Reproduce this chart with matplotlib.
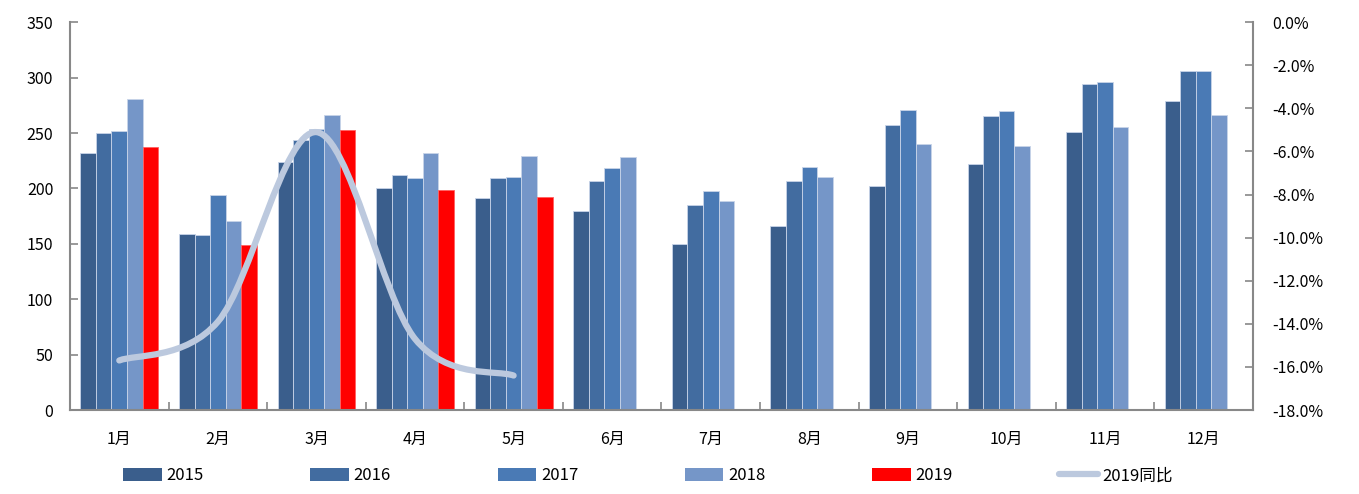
import matplotlib
matplotlib.use("Agg")
import matplotlib.pyplot as plt
import numpy as np
from matplotlib.path import Path
from matplotlib.patches import PathPatch, Patch
from matplotlib.lines import Line2D
from matplotlib.ticker import FuncFormatter, MultipleLocator

plt.rcParams['font.family'] = ['Noto Sans CJK SC', 'DejaVu Sans']

months = ["1月", "2月", "3月", "4月", "5月", "6月", "7月", "8月", "9月", "10月", "11月", "12月"]
years = ["2015", "2016", "2017", "2018", "2019"]
v2015 = [232, 159, 224, 200, 191, 180, 150, 166, 202, 222, 251, 279]
v2016 = [250, 158, 244, 212, 209, 207, 185, 207, 257, 265, 294, 306]
v2017 = [252, 194, 254, 209, 210, 218, 198, 219, 271, 270, 296, 306]
v2018 = [281, 171, 266, 232, 229, 228, 189, 210, 240, 238, 255, 266]
v2019 = [237, 149, 253, 199, 192]
yoy2019 = [-15.7, -13.9, -5.1, -14.7, -16.4]

colors = ["#3A5E8C", "#426CA0", "#4A7AB5", "#7596C8", "#FF0000"]
line_color = "#BCC9DE"
series = [v2015, v2016, v2017, v2018, v2019]

fig = plt.figure(figsize=(13.59, 4.94), dpi=100)
ax = fig.add_axes([0.0515, 0.17, 0.8705, 0.785])
ax2 = ax.twinx()

w = 0.158
x = np.arange(len(months))
for i, vals in enumerate(series):
    xs = x[:len(vals)] + (i - 2) * w
    edge = "#FF6060" if i == 4 else "#C8D4E8"
    ax.bar(xs, vals, width=w, color=colors[i], edgecolor=edge, linewidth=0.6, zorder=2)

ax.set_xlim(-0.5, 11.5)
ax.set_ylim(0, 350)
ax.yaxis.set_major_locator(MultipleLocator(50))
ax.set_xticks(x)
ax.set_xticklabels(months)
ax.set_xticks(np.arange(-0.5, 12, 1), minor=True)
ax.tick_params(axis='x', which='major', length=0, labelsize=11.5, pad=15)
ax.tick_params(axis='x', which='minor', direction='in', length=6, color="#888888", width=1.2)
ax.tick_params(axis='y', direction='in', length=6, color="#888888", width=1.2, labelsize=11.5, pad=12)
for s in ["top", "right"]:
    ax.spines[s].set_visible(False)
for s in ["left", "bottom"]:
    ax.spines[s].set_color("#888888")
    ax.spines[s].set_linewidth(1.5)

# smoothed year-on-year curve (Catmull-Rom as cubic Bezier)
px = list(x[:len(yoy2019)].astype(float))
py = list(yoy2019)
P = [(px[0], py[0])] + list(zip(px, py)) + [(px[-1], py[-1])]
verts = [P[1]]
codes = [Path.MOVETO]
for k in range(1, len(P) - 2):
    p0, p1, p2, p3 = [np.array(p) for p in P[k - 1:k + 3]]
    c1 = p1 + (p2 - p0) / 6.0
    c2 = p2 - (p3 - p1) / 6.0
    verts += [tuple(c1), tuple(c2), tuple(p2)]
    codes += [Path.CURVE4] * 3
ax2.add_patch(PathPatch(Path(verts, codes), facecolor="none", edgecolor=line_color,
                        linewidth=4.5, capstyle='round', zorder=3))

ax2.set_ylim(-18, 0)
ax2.yaxis.set_major_locator(MultipleLocator(2))
ax2.yaxis.set_major_formatter(FuncFormatter(lambda v, p: f"{v:.1f}%"))
ax2.tick_params(axis='y', direction='in', length=6, color="#888888", width=1.2, labelsize=11.5, pad=14)
for s in ["top", "left", "bottom"]:
    ax2.spines[s].set_visible(False)
ax2.spines["right"].set_color("#888888")
ax2.spines["right"].set_linewidth(1.5)

handles = [Patch(facecolor=c, label=y) for c, y in zip(colors, years)]
handles.append(Line2D([0], [0], color=line_color, linewidth=4.5, solid_capstyle='round', label="2019同比"))
fig.legend(handles=handles, loc="center", bbox_to_anchor=(0.477, 0.037), ncol=6, frameon=False,
           fontsize=12, handlelength=2.3, handleheight=0.8, handletextpad=0.3, columnspacing=6.4)

fig.savefig("out.png", dpi=100)
